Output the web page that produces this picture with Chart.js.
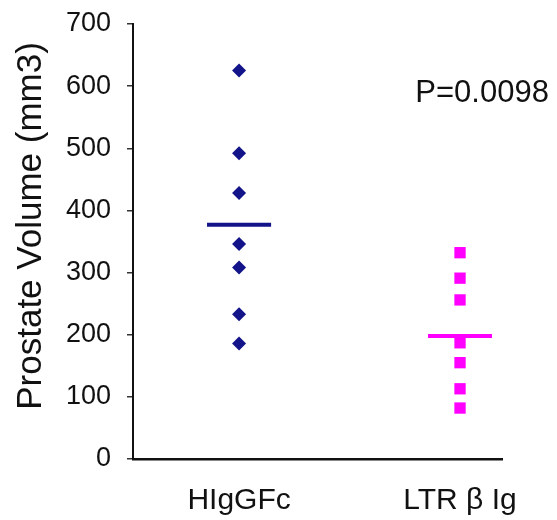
<!DOCTYPE html>
<html lang="en">
<head>
  <meta charset="UTF-8">
  <title>Prostate Volume</title>
  <script src="https://cdn.jsdelivr.net/npm/chart.js@4.4.0"></script>
  <style>
    body { margin: 0; background: #fff; }
  </style>
</head>
<body>
  <canvas id="myChart" width="557" height="520"></canvas>
  <script>
    // data
    const categories = ['HIgGFc', 'LTR β Ig'];
    const hIgGFcValues = [625, 492, 428, 346, 308, 233, 186];
    const ltrValues = [332, 291, 256, 187, 155, 113, 82];
    const means = [377, 198];
    const yTicks = [0, 100, 200, 300, 400, 500, 600, 700];
    const yTitle = 'Prostate Volume (mm3)';
    const pText = 'P=0.0098';

    const NAVY = '#13138a';
    const MAGENTA = '#ff00ff';
    const FONT = "'Liberation Sans', Arial, sans-serif";

    const halfWidth = 0.145;
    const meanLine = (i) => [
      { x: i - halfWidth, y: means[i] },
      { x: i + halfWidth, y: means[i] }
    ];

    // P value text and the axis title (title sits a bit above the area centre in the figure)
    const textPlugin = {
      id: 'texts',
      afterDatasetsDraw(chart) {
        const { ctx, scales } = chart;
        ctx.save();
        ctx.fillStyle = '#111';
        ctx.textAlign = 'center';
        ctx.textBaseline = 'middle';
        ctx.font = '31px ' + FONT;
        ctx.fillText(pText, scales.x.getPixelForValue(1.1), scales.y.getPixelForValue(588));
        ctx.translate(31, scales.y.getPixelForValue(375));
        ctx.rotate(-Math.PI / 2);
        ctx.font = '35px ' + FONT;
        ctx.fillText(yTitle, 0, 0);
        ctx.restore();
      }
    };

    const chart = new Chart(document.getElementById('myChart'), {
      type: 'scatter',
      data: {
        datasets: [
          {
            data: hIgGFcValues.map(v => ({ x: 0, y: v })),
            pointStyle: 'rectRot',
            pointRadius: 7,
            backgroundColor: NAVY,
            borderColor: NAVY,
            borderWidth: 0,
            order: 2
          },
          {
            data: ltrValues.map(v => ({ x: 1, y: v })),
            pointStyle: 'rect',
            pointRadius: 8,
            backgroundColor: MAGENTA,
            borderColor: MAGENTA,
            borderWidth: 0,
            order: 2
          },
          {
            type: 'line',
            data: meanLine(0),
            borderColor: NAVY,
            borderWidth: 4,
            pointRadius: 0,
            order: 1
          },
          {
            type: 'line',
            data: meanLine(1),
            borderColor: MAGENTA,
            borderWidth: 4,
            pointRadius: 0,
            order: 1
          }
        ]
      },
      options: {
        responsive: false,
        animation: false,
        devicePixelRatio: 1,
        layout: { padding: { top: 24, right: 55, bottom: 0, left: 0 } },
        plugins: {
          legend: { display: false },
          tooltip: { enabled: false }
        },
        scales: {
          x: {
            type: 'linear',
            min: -0.48,
            max: 1.19,
            afterBuildTicks: s => { s.ticks = categories.map((c, i) => ({ value: i })); },
            afterFit: s => { s.height = 61; s.paddingLeft = 0; s.paddingRight = 0; },
            grid: { display: false, drawTicks: false },
            border: { display: true, color: '#111', width: 2.5 },
            ticks: {
              padding: 24,
              maxRotation: 0,
              color: '#111',
              font: { family: FONT, size: 30 },
              callback: v => categories[v] ?? ''
            }
          },
          y: {
            min: 0,
            max: 700,
            afterBuildTicks: s => { s.ticks = yTicks.map(v => ({ value: v })); },
            afterFit: s => { s.width = 133; s.paddingTop = 0; s.paddingBottom = 0; },
            grid: { drawOnChartArea: false, tickLength: 6, color: '#333', lineWidth: 1.5 },
            border: { display: true, color: '#111', width: 2 },
            ticks: {
              padding: 16,
              color: '#111',
              font: { family: FONT, size: 27 }
            }
          }
        }
      },
      plugins: [textPlugin]
    });
  </script>
</body>
</html>
